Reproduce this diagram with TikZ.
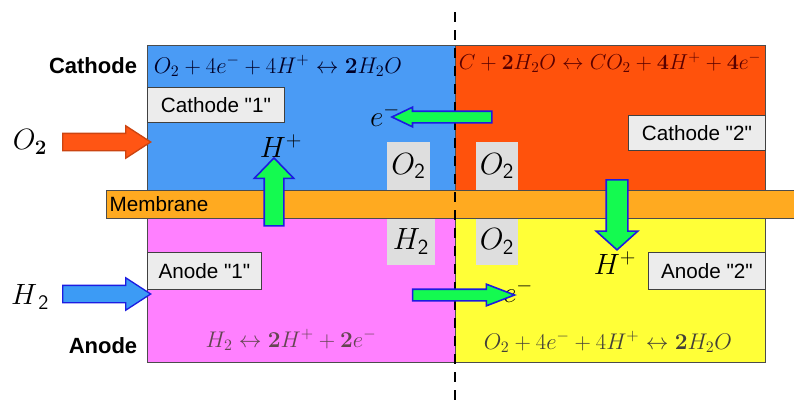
\documentclass[tikz,border=0pt]{standalone}
\usepackage{fix-cm}
\usepackage{amsmath}
\usepackage[no-math]{fontspec}
\setmainfont{Liberation Sans}
\usetikzlibrary{shapes.arrows}
\definecolor{cathblue}{RGB}{74,155,245}
\definecolor{cathred}{RGB}{255,82,12}
\definecolor{anodepink}{RGB}{255,128,255}
\definecolor{anodeyellow}{RGB}{255,255,55}
\definecolor{membrane}{RGB}{255,170,32}
\definecolor{ionblue}{RGB}{28,28,225}
\definecolor{iongreen}{RGB}{20,250,80}
\definecolor{feedred}{RGB}{255,85,20}
\definecolor{feedblue}{RGB}{60,155,245}
\definecolor{tagfill}{RGB}{236,236,236}
\definecolor{gasfill}{RGB}{222,222,222}

\begin{document}
\begin{tikzpicture}[
  x=0.75pt, y=-0.75pt,
  region/.style={draw=black!70,line width=0.6pt},
  tag/.style={draw=black!75,fill=tagfill,line width=0.6pt,inner sep=0pt,anchor=north west,font=\fontsize{15.5}{18}\selectfont},
  gas/.style={fill=gasfill,inner sep=0pt,font=\fontsize{23}{25}\selectfont},
  side/.style={font=\bfseries\fontsize{16.5}{18}\selectfont},
  eqn/.style={font=\fontsize{17}{19}\selectfont},
  ion/.style={font=\fontsize{22}{24}\selectfont},
  flow/.style={single arrow,draw=ionblue,fill=iongreen,line width=1.2pt,inner xsep=0pt,single arrow head indent=0pt},
  feed/.style={single arrow,line width=1pt,inner xsep=0pt,single arrow head indent=0pt,
    inner ysep=6pt,minimum height=66pt,single arrow head extend=5.6pt,single arrow tip angle=66}
]
  \useasboundingbox (0,0) rectangle (794,400);

  \filldraw[region,fill=cathblue] (147,45) rectangle (455,190);
  \filldraw[region,fill=cathred] (455,45) rectangle (765,190);
  \filldraw[region,fill=anodepink] (147,218) rectangle (455,362);
  \filldraw[region,fill=anodeyellow] (455,218) rectangle (765,362);

  \node[gas,minimum width=32.25pt,minimum height=36pt] (o2a) at (408.5,166) {$O_{\mathsf{2}}$};
  \node[gas,minimum width=31.5pt,minimum height=36pt] (o2b) at (497,166) {$O_{\mathsf{2}}$};
  \node[gas,minimum width=36pt,minimum height=35.25pt] (h2a) at (411,241.5) {$H_{\mathsf{2}}$};
  \node[gas,minimum width=31.5pt,minimum height=35.25pt] (o2c) at (497,241.5) {$O_{\mathsf{2}}$};

  \fill[membrane] (106,190) rectangle (794,218);
  \draw[region] (794,190) -- (106,190) -- (106,218) -- (794,218);
  \node[font=\fontsize{15.5}{18}\selectfont] (memb) at (159,204) {Membrane};

  \node[tag,minimum width=102.75pt,minimum height=26.25pt] (cath1) at (147,87) {Cathode \textquotedbl1\textquotedbl};
  \node[tag,minimum width=102.75pt,minimum height=26.25pt] (cath2) at (628,115) {Cathode \textquotedbl2\textquotedbl};
  \node[tag,minimum width=85.5pt,minimum height=27.75pt] (anod1) at (147,252) {Anode \textquotedbl1\textquotedbl};
  \node[tag,minimum width=87.75pt,minimum height=27.75pt] (anod2) at (648,252) {Anode \textquotedbl2\textquotedbl};

  \node[side] (cathode) at (93,66) {Cathode};
  \node[side] (anode) at (103,346) {Anode};

  \node[eqn,text=black!85!blue] (eqtl) at (278,66) {$O_2+4e^-+4H^+\leftrightarrow\mathbf{2}H_2O$};
  \node[eqn,text=black!65!red,font=\fontsize{16.2}{18}\selectfont] (eqtr) at (610,63) {$C+\mathbf{2}H_2O\leftrightarrow CO_2+\mathbf{4}H^+ +\mathbf{4}e^-$};
  \node[eqn,text=black!70!magenta] (eqbl) at (291,340) {$H_2\leftrightarrow\mathbf{2}H^+ +\mathbf{2}e^-$};
  \node[eqn,text=black!85!yellow] (eqbr) at (608,342) {$O_2+4e^-+4H^+\leftrightarrow\mathbf{2}H_2O$};

  \coordinate (cutT) at (455,12);
  \coordinate (cutB) at (455,400);
  \draw[line width=1.5pt,dash pattern=on 7.5pt off 6pt] (cutT) -- (cutB);

  \node[ion] (o2in) at (30,142) {$O_{\mathbf{2}}$};
  \node[ion] (h2in) at (30,297) {$H_{\,\mathsf{2}}$};
  \node[ion] (hpl) at (281,146) {$H^+$};
  \node[ion] (hpr) at (615,263) {$H^+$};
  \node[ion] (emt) at (385,115) {$e^-$};
  \node[ion] (emb) at (518,291) {$e^-$};

  \node[feed,draw=feedred!80!black,fill=feedred] (arO2) at (100,142) {};
  \node[feed,draw=ionblue,fill=feedblue] (arH2) at (100,294) {};
  \node[flow,rotate=90,minimum height=51pt,inner ysep=6.75pt,single arrow head extend=7.5pt,single arrow tip angle=88] (arHl) at (274,197) {};
  \node[flow,rotate=-90,minimum height=52.5pt,inner ysep=7.5pt,single arrow head extend=7.5pt,single arrow tip angle=96] (arHr) at (617,210) {};
  \node[flow,rotate=180,minimum height=75pt,inner ysep=3.75pt,single arrow head extend=3pt,single arrow tip angle=51] (arEt) at (448,117) {};
  \node[flow,minimum height=76.5pt,inner ysep=3.75pt,single arrow head extend=3.75pt,single arrow tip angle=42] (arEb) at (456,295) {};
\end{tikzpicture}
\end{document}
